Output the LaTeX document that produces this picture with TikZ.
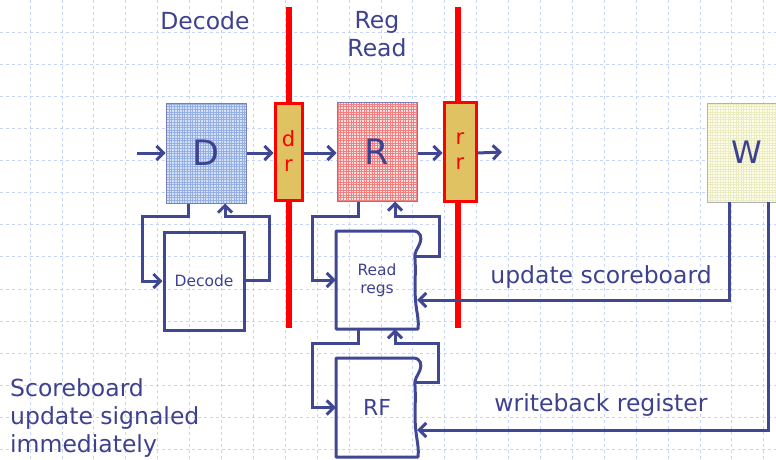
\documentclass[tikz,border=0pt]{standalone}
\usepackage{fontspec}
\setmainfont{DejaVu Sans}
\usetikzlibrary{arrows.meta,calc}
\definecolor{txtblue}{RGB}{62,66,142}
\definecolor{lnblue}{RGB}{64,72,148}
\definecolor{gridblue}{RGB}{200,212,245}
\definecolor{gold}{RGB}{224,194,98}
\definecolor{dfill}{RGB}{214,226,248}
\definecolor{dmesh}{RGB}{150,176,228}
\definecolor{rfill}{RGB}{255,224,224}
\definecolor{rmesh}{RGB}{242,128,128}
\definecolor{wfill}{RGB}{253,253,236}
\definecolor{wmesh}{RGB}{236,236,196}
\tikzset{
  conn/.style={draw=lnblue,line width=3pt,line join=miter},
  arr/.style={conn,-{Straight Barb[length=7pt,width=14pt]}},
  stagebox/.style={rectangle,inner sep=0pt,draw=lnblue!70,line width=1pt},
  latchbox/.style={rectangle,inner sep=0pt,draw=red,line width=3pt,fill=gold,text=red,font=\fontsize{21}{25}\selectfont,align=center},
  unitbox/.style={rectangle,inner sep=0pt,minimum width=82pt,minimum height=98pt,text=txtblue},
  bigtxt/.style={text=txtblue,font=\fontsize{23.5}{28}\selectfont,inner sep=0pt},
  redbar/.style={draw=red,line width=6pt},
}
\newcommand{\meshbox}[5]{% x1 y1 x2 y2 color
  \begin{scope}
    \clip (#1,#2) rectangle (#3,#4);
    \draw[#5,line width=0.45pt,step=2.6pt] (#1,#2) grid (#3,#4);
  \end{scope}}
\begin{document}
\begin{tikzpicture}[x=1pt,y=-1pt]
\useasboundingbox (0,0) rectangle (776,460);
% background grid
\foreach \k in {0,...,24} {
  \draw[gridblue,line width=0.8pt,dash pattern=on 3pt off 3pt] (30+31.9*\k,0) -- (30+31.9*\k,460);
}
\foreach \k in {1,...,14} {
  \draw[gridblue,line width=0.8pt,dash pattern=on 3pt off 3pt] (0,32.1*\k) -- (776,32.1*\k);
}
% red pipeline bars
\coordinate (b1t) at (289,7);  \coordinate (b1b) at (289,328);
\coordinate (b2t) at (458,7);  \coordinate (b2b) at (458,328);
\draw[redbar] (b1t) -- (b1b);
\draw[redbar] (b2t) -- (b2b);
% stage boxes with mesh fill
\fill[dfill] (166,103) rectangle (246,203);
\meshbox{166}{103}{246}{203}{dmesh}
\fill[rfill] (337,102) rectangle (417,201);
\meshbox{337}{102}{417}{201}{rmesh}
\fill[wfill] (707,103) rectangle (790,202);
\meshbox{707}{103}{790}{202}{wmesh}
\node[stagebox,minimum width=80pt,minimum height=100pt,text=txtblue,font=\fontsize{35}{40}\selectfont] (D) at (206,153) {D};
\node[stagebox,minimum width=80pt,minimum height=99pt,text=txtblue,font=\fontsize{35}{40}\selectfont] (R) at (377,151.5) {R};
\node[stagebox,draw=gray!60,minimum width=80pt,minimum height=99pt,text=txtblue,font=\fontsize{31}{36}\selectfont] (W) at (747,152.5) {W};
% latches
\node[latchbox,minimum width=27pt,minimum height=97pt] (dr) at (288.5,151.5) {d\\r};
\node[latchbox,minimum width=32pt,minimum height=99pt] (rr) at (460,151.5) {r\\r};
% units
\node[unitbox,draw=lnblue,line width=3pt,minimum width=80pt,font=\fontsize{15.5}{18}\selectfont] (dec) at (204,281) {Decode};
\node[unitbox,font=\fontsize{15.5}{18}\selectfont,align=center] (rd) at (377,280) {Read\\regs};
\node[unitbox,minimum height=99pt,font=\fontsize{22}{25}\selectfont] (rf) at (377,407.5) {RF};
% wavy outlines
\draw[conn,line join=round] (336,231) -- (413,231) .. controls (421,231) and (422,238) .. (420,243)
  .. controls (418,249) and (414,251) .. (415,259) .. controls (416,275) and (414,290) .. (416,305)
  .. controls (417,314) and (419,320) .. (418,329) -- (336,329) -- cycle;
\draw[conn,line join=round] (336,358) -- (413,358) .. controls (421,358) and (422,365) .. (420,370)
  .. controls (418,376) and (414,378) .. (415,386) .. controls (416,402) and (414,418) .. (416,432)
  .. controls (417,441) and (419,448) .. (418,457) -- (336,457) -- cycle;
% pipeline arrows
\coordinate (in) at (137,153);
\coordinate (out) at (502,152);
\draw[arr] (in) -- (D.west |- in);
\draw[arr] (D.east |- in) -- (dr.west |- in);
\draw[arr] (dr.east |- in) -- (R.west |- in);
\draw[arr] (R.east |- in) -- (rr.west |- in);
\draw[arr] (rr.east |- in) -- (out);
% decode loop
\draw[arr] ([xshift=-18pt]D.south) |- (142,216) |- (dec.west);
\draw[arr] ([yshift=1pt]dec.east) -| (269,216) -| ([xshift=19pt]D.south);
% read regs loop
\draw[arr] ([xshift=-19pt]R.south) |- (312,216) |- (rd.west);
\draw[arr] (416,256) -| (439,216) -| ([xshift=18pt]R.south);
% RF loop
\draw[arr] ([xshift=-19pt]rd.south) |- (312,343) |- (rf.west);
\draw[arr] (416,382) -| (438,343) -| ([xshift=18pt]rd.south);
% writeback connectors
\draw[arr] (729,202) |- ([xshift=-1pt,yshift=-20pt]rd.east);
\draw[arr] (768,202) |- ([xshift=-1pt,yshift=-22.5pt]rf.east);
% labels
\node[bigtxt] (lblu) at (601,277) {update scoreboard};
\node[bigtxt] (lblw) at (601,405) {writeback register};
\node[bigtxt] (tdec) at (205,21) {Decode};
\node[bigtxt,align=center] (treg) at (377,34) {Reg\\Read};
\node[bigtxt,align=left,anchor=north west] (note) at (10,378.5) {Scoreboard\\update signaled\\immediately};
\end{tikzpicture}
\end{document}
